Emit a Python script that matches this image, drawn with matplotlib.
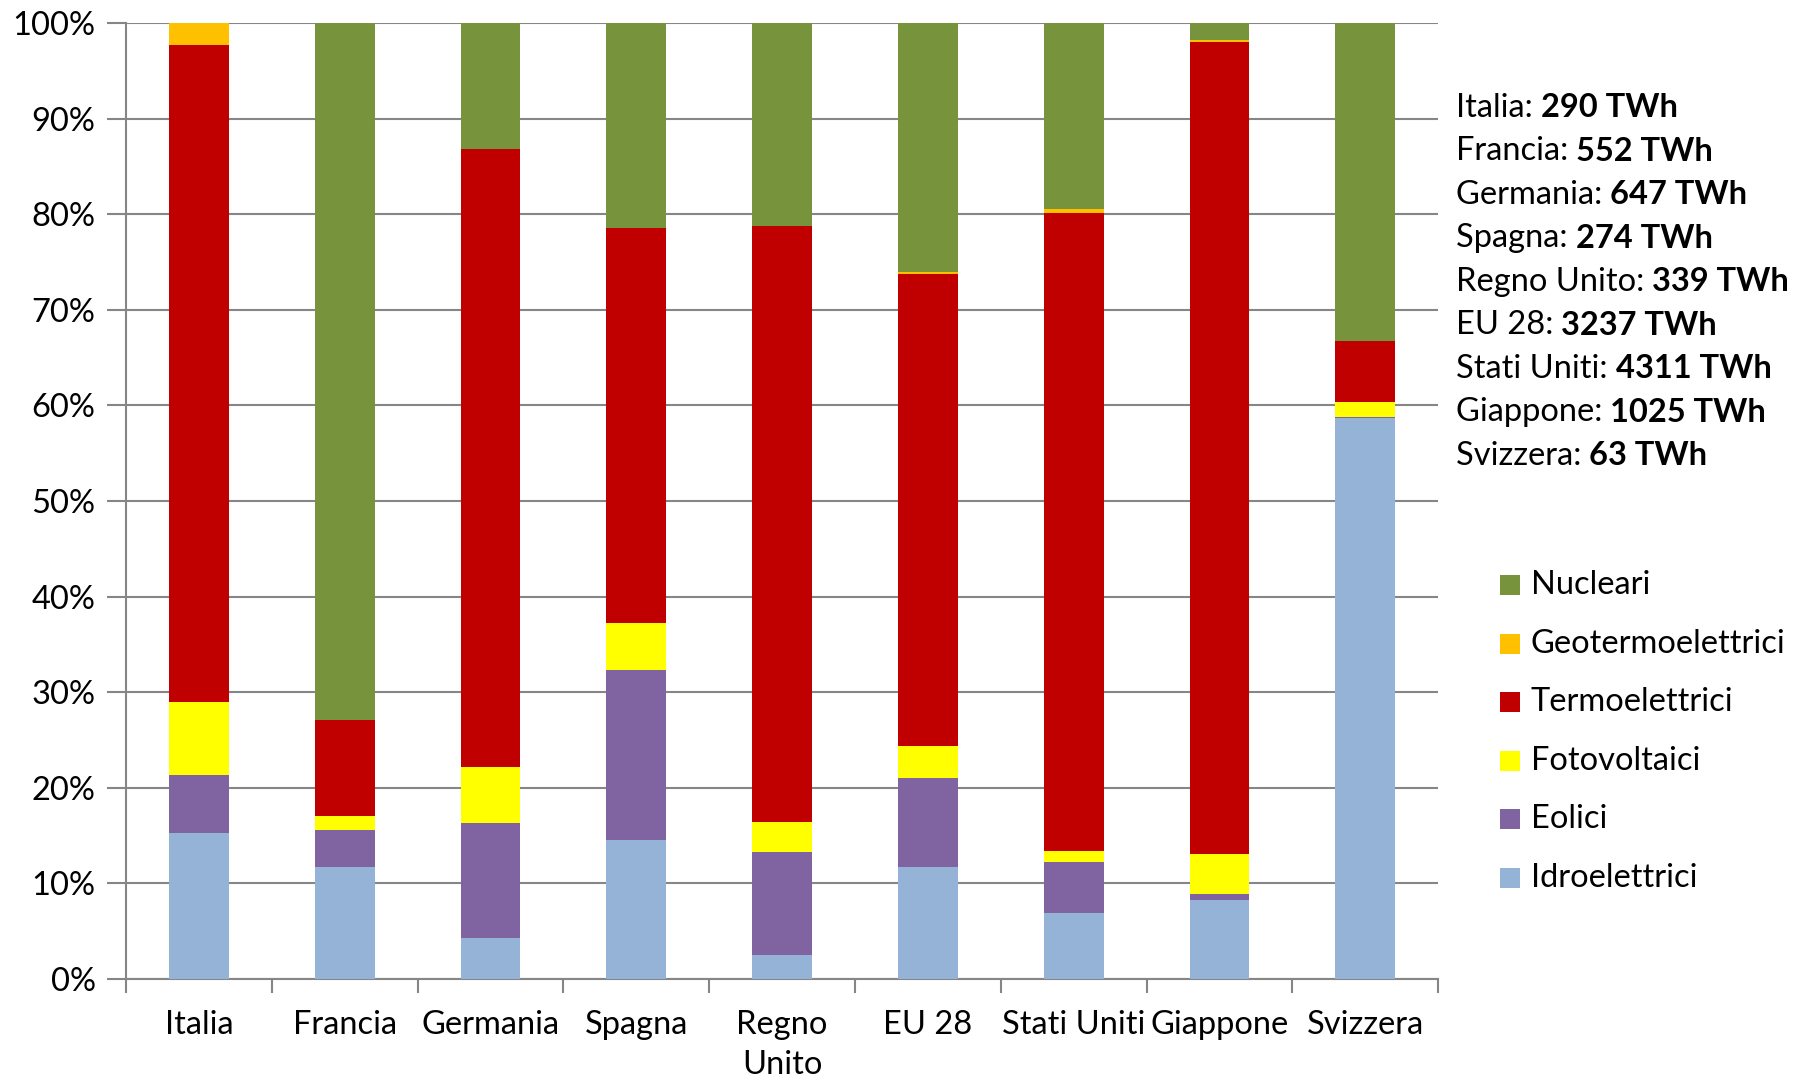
import matplotlib
matplotlib.use("Agg")
import matplotlib.pyplot as plt
import numpy as np
from matplotlib.patches import Rectangle

plt.rcParams['font.family'] = ['Lato', 'DejaVu Sans']

categories = ["Italia", "Francia", "Germania", "Spagna", "Regno\nUnito",
              "EU 28", "Stati Uniti", "Giappone", "Svizzera"]

idroelettrici = [15.3, 11.7, 4.3, 14.5, 2.5, 11.7, 6.9, 8.3, 58.7]
eolici        = [6.0, 3.9, 12.0, 17.8, 10.8, 9.3, 5.3, 0.6, 0.1]
fotovoltaici  = [7.7, 1.5, 5.9, 4.9, 3.1, 3.4, 1.2, 4.2, 1.6]
termoelettrici = [68.7, 10.0, 64.6, 41.4, 62.4, 49.4, 66.7, 84.9, 6.3]
geotermoelettrici = [2.3, 0.0, 0.0, 0.0, 0.0, 0.2, 0.4, 0.2, 0.0]
nucleari      = [0.0, 72.9, 13.2, 21.4, 21.2, 26.0, 19.5, 1.8, 33.3]

series_names = ["Idroelettrici", "Eolici", "Fotovoltaici", "Termoelettrici",
                "Geotermoelettrici", "Nucleari"]
series_colors = ["#95B3D7", "#8064A2", "#FFFF00", "#C00000", "#FFC000", "#77933C"]

totals_labels = ["Italia", "Francia", "Germania", "Spagna", "Regno Unito",
                 "EU 28", "Stati Uniti", "Giappone", "Svizzera"]
totals_values = ["290 TWh", "552 TWh", "647 TWh", "274 TWh", "339 TWh",
                 "3237 TWh", "4311 TWh", "1025 TWh", "63 TWh"]

FS = 23.5

fig = plt.figure(figsize=(17.96, 10.82), dpi=100)
ax = fig.add_axes([0.0702, 0.0952, 0.7305, 0.8835])

data = [idroelettrici, eolici, fotovoltaici, termoelettrici, geotermoelettrici, nucleari]
x = np.arange(len(categories))
bottom = np.zeros(len(categories))
for vals, name, col in zip(data, series_names, series_colors):
    v = np.array(vals, dtype=float)
    ax.bar(x, v, bottom=bottom, width=0.41, color=col, label=name, zorder=3)
    bottom += v

ax.set_xlim(-0.5, len(categories) - 0.5)
ax.set_ylim(0, 100)
ax.set_yticks(np.arange(0, 101, 10))
ax.set_yticklabels([f"{t}%" for t in range(0, 101, 10)], fontsize=FS)
ax.yaxis.grid(True, color="#868686", linewidth=1.5, zorder=0)
ax.set_axisbelow(True)

ax.set_xticks(np.arange(-0.5, len(categories), 1.0))
ax.set_xticklabels([])
ax.set_xticks(x, minor=True)
ax.set_xticklabels(categories, minor=True, fontsize=FS, va="top")
ax.tick_params(axis="x", which="minor", length=0, pad=22)
ax.tick_params(axis="x", which="major", length=10, width=1.5, color="#868686", direction="out")
ax.tick_params(axis="y", length=14, width=1.5, color="#868686", direction="out", pad=8)
for lbl in ax.get_xticklabels(minor=True):
    lbl.set_linespacing(1.45)

for s in ["top", "right"]:
    ax.spines[s].set_visible(False)
for s in ["left", "bottom"]:
    ax.spines[s].set_color("#868686")
    ax.spines[s].set_linewidth(1.5)

# totals text block
y0 = 0.9005
dy = 0.0402
fig.canvas.draw()
r = fig.canvas.get_renderer()
for i, (lab, val) in enumerate(zip(totals_labels, totals_values)):
    t = fig.text(0.8105, y0 - i * dy, lab + ": ", fontsize=FS, va="center", ha="left")
    bb = t.get_window_extent(renderer=r)
    fig.text(bb.x1 / fig.bbox.width, y0 - i * dy, val, fontsize=FS,
             fontweight="bold", va="center", ha="left")

# legend (top to bottom: Nucleari ... Idroelettrici)
ly0 = 0.459
ldy = 0.054
sw, sh = 20 / 1796, 20 / 1082
for i, (n, c) in enumerate(list(zip(series_names, series_colors))[::-1]):
    yy = ly0 - i * ldy
    fig.patches.append(Rectangle((0.8352, yy - sh / 2), sw, sh, facecolor=c,
                                 edgecolor="none", transform=fig.transFigure))
    fig.text(0.8524, yy, n, fontsize=FS, va="center", ha="left")

fig.savefig("out.png", dpi=100, facecolor="white")
